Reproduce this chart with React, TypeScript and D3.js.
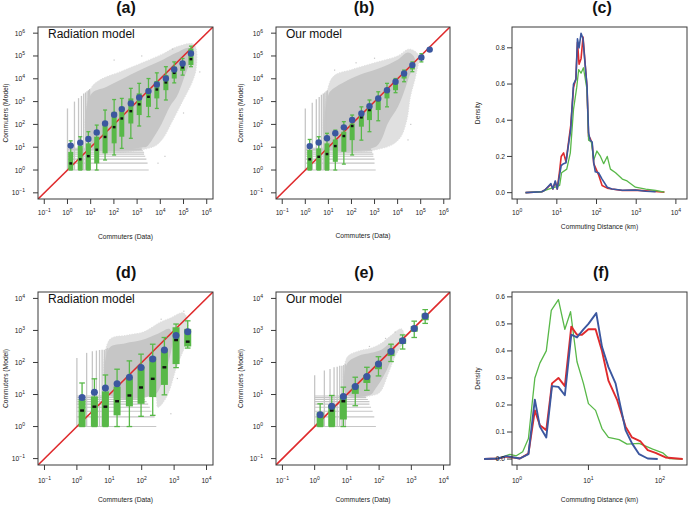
import React from 'react';
import * as d3 from 'd3';

const FONT = '"Liberation Sans", Arial, Helvetica, sans-serif';
const RED = '#df2a2c';
const GREEN = '#58b848';
const BLUE = '#3b579f';
const GRAY = '#c6c6c6';
const GRAY_LIGHT = '#e0e0e0';
const AXIS = '#3a3a3a';

// ---------- panel (a): radiation model, all commuters (log10 values) ----------
const aBinX = [0.14, 0.55, 0.9, 1.26, 1.62, 2.01, 2.34, 2.73, 3.09, 3.49, 3.85, 4.24, 4.6, 4.96, 5.32];
const aMean = [1.07, 1.2, 1.36, 1.65, 2.04, 2.42, 2.67, 2.92, 3.18, 3.46, 3.75, 4.01, 4.41, 4.67, 5.11];
const aMedian = [0.29, 0.47, 0.61, 0.89, 1.45, 1.88, 2.26, 2.58, 2.88, 3.21, 3.53, 3.84, 4.26, 4.5, 4.86];
const aQ3 = [0.8, 1.07, 1.17, 1.46, 2.04, 2.55, 2.77, 3.14, 3.36, 3.58, 3.9, 4.16, 4.53, 4.74, 5.33];
const aQ1 = [0, 0, 0, 0.29, 0.73, 1.17, 1.46, 2.04, 2.41, 2.77, 3.14, 3.5, 4.01, 4.35, 4.6];
const aHi = [1.28, 1.46, 1.68, 1.97, 2.63, 3.09, 3.14, 3.58, 3.8, 4.01, 4.26, 4.53, 4.74, 4.89, 5.43];
const aLo = [0, 0, 0, 0, 0.44, 0.66, 0.95, 1.39, 1.93, 2.34, 2.7, 3.07, 3.82, 4.16, 4.53];
const aOuter = [[1, 1], [1, 3.55], [1.4, 3.95], [2.26, 4.3], [3.27, 4.72], [4.13, 5.1], [4.71, 5.4], [5.45, 5.5], [5.55, 4.5], [5.35, 3.8], [4.95, 3.0], [4.55, 2.2], [4.05, 1.3], [3.65, 1.0]];
const aCore = [[1, 1], [1, 3.3], [1.69, 3.65], [2.55, 4.09], [3.27, 4.45], [4.13, 4.85], [4.71, 5.15], [5.25, 5.35], [5.3, 4.9], [4.99, 3.95], [4.71, 3.22], [4.42, 2.8], [3.99, 1.9], [3.41, 1.02], [3.3, 1]];
const aVTops = [2.7, 3.0, 3.15, 3.25, 3.35, 3.4, 3.45, 3.5, 3.55];
const aHEnds = [3.5, 3.45, 3.4, 3.35, 3.3, 3.3, 3.25, 3.2, 3.2];
const aOut = [[2.01, 4.82], [4.53, 5.3], [5.7, 4.3], [3.2, 5.0], [5.0, 2.5], [4.2, 0.6], [3.9, 0.3]];

// ---------- panel (b): our model, all commuters ----------
const bBinX = [0.19, 0.58, 0.94, 1.3, 1.67, 2.03, 2.43, 2.78, 3.16, 3.54, 3.91, 4.28, 4.64, 5.03, 5.39];
const bMean = [1.05, 1.21, 1.39, 1.61, 1.87, 2.19, 2.48, 2.8, 3.14, 3.5, 3.87, 4.23, 4.6, 4.93, 5.28];
const bMedian = [0.47, 0.58, 0.7, 1.05, 1.49, 1.93, 2.31, 2.63, 3.07, 3.46, 3.82, 4.2, 4.57, 4.93, 5.28];
const bQ3 = [0.88, 0.95, 1.17, 1.34, 1.68, 2.04, 2.41, 2.74, 3.09, 3.5, 3.87, 4.23, 4.6, 5.0, 5.3];
const bQ1 = [0, 0, 0, 0.36, 0.8, 1.31, 1.9, 2.19, 2.63, 3.14, 3.5, 4.01, 4.41, 4.82, 5.25];
const bHi = [1.34, 1.46, 1.61, 1.75, 2.12, 2.41, 2.77, 3.07, 3.43, 3.8, 4.01, 4.38, 4.74, 5.1, 5.32];
const bLo = [0, 0, 0, 0, 0.26, 0.66, 1.31, 1.68, 2.16, 2.77, 3.39, 3.87, 4.31, 4.74, 5.22];
const bOuter = [[1, 1], [1, 3.65], [1.27, 4.15], [2.0, 4.4], [3.0, 4.7], [4.0, 5.0], [4.5, 5.3], [4.9, 5.05], [4.8, 4.2], [4.55, 3.2], [4.4, 2.2], [4.1, 1.4], [3.5, 1.0]];
const bCore = [[1, 1], [1, 3.3], [1.13, 3.5], [1.85, 3.95], [2.57, 4.25], [3.29, 4.5], [4.02, 4.85], [4.45, 5.15], [4.74, 4.9], [4.45, 3.95], [4.02, 2.78], [3.58, 2.05], [3.29, 1.32], [3.0, 1]];
const bVTops = [2.7, 2.95, 3.1, 3.2, 3.3, 3.35, 3.4, 3.45, 3.5];
const bHEnds = [3.05, 3.0, 3.0, 2.95, 2.95, 2.9, 2.9, 2.85, 2.85];
const bOut = [[1.27, 4.38], [4.45, 1.32], [3.0, 4.9], [4.57, 2.0], [2.2, 4.7]];

// ---------- panel (d): radiation model, subset ----------
const dBinX = [0.16, 0.54, 0.88, 1.24, 1.62, 1.98, 2.34, 2.7, 3.06, 3.42];
const dMean = [0.91, 1.07, 1.2, 1.34, 1.54, 1.84, 2.11, 2.39, 2.84, 2.96];
const dMedian = [0.5, 0.62, 0.62, 0.79, 0.97, 1.22, 1.49, 1.85, 2.7, 2.65];
const dQ3 = [0.86, 0.94, 1.1, 1.25, 1.51, 1.87, 2.18, 2.42, 3.1, 3.05];
const dQ1 = [0, 0, 0, 0.35, 0.63, 0.71, 0.92, 1.3, 1.95, 2.5];
const dHi = [1.36, 1.49, 1.61, 1.79, 2.05, 2.26, 2.57, 2.78, 3.2, 3.3];
const dLo = [0, 0, 0, 0, 0, 0.32, 0.35, 0.99, 1.84, 2.45];
const dOuter = [[1, 1], [1, 2.7], [1.54, 2.85], [2.05, 2.95], [2.56, 3.25], [2.87, 3.38], [3.28, 3.55], [3.42, 3.3], [3.39, 2.7], [3.08, 1.87], [2.77, 0.93], [2.5, 0.6], [2.4, 1]];
const dCore = [[1, 1], [1, 2.45], [1.5, 2.6], [2.0, 2.7], [2.5, 2.9], [2.85, 3.05], [2.95, 2.7], [2.8, 1.9], [2.6, 1.3], [2.4, 1]];
const dVTops = [2.14, 2.3, 2.35, 2.37, 2.39, 2.4, 2.4, 2.42, 2.45];
const dHEnds = [2.45, 2.4, 2.3, 2.25, 2.2, 2.15, 2.1, 2.05, 2.05];
const dOut = [[3.3, 3.6], [2.6, 3.35], [3.1, 1.5], [2.9, 0.4]];

// ---------- panel (e): our model, subset ----------
const eBinX = [0.17, 0.53, 0.89, 1.26, 1.62, 1.98, 2.37, 2.73, 3.09, 3.43];
const eMean = [0.37, 0.63, 0.94, 1.25, 1.56, 1.95, 2.34, 2.68, 3.06, 3.45];
const eMedian = [0.32, 0.5, 0.79, 1.2, 1.51, 1.93, 2.31, 2.65, 3.04, 3.43];
const eQ3 = [0.45, 0.68, 0.94, 1.3, 1.61, 2.0, 2.41, 2.75, 3.14, 3.53];
const eQ1 = [0, 0, 0.22, 1.02, 1.36, 1.79, 2.2, 2.58, 2.96, 3.32];
const eHi = [0.71, 0.97, 1.23, 1.54, 1.85, 2.18, 2.57, 2.86, 3.29, 3.65];
const eLo = [0, 0, 0, 0.65, 1.13, 1.58, 2.03, 2.42, 2.78, 3.22];
const eOuter = [[1, 1], [1, 2.15], [1.35, 2.35], [1.76, 2.45], [2.07, 2.6], [2.38, 2.85], [2.69, 3.05], [2.78, 2.75], [2.5, 2.2], [2.3, 1.7], [2.05, 1.1], [1.9, 1]];
const eCore = [[1, 1], [1, 1.95], [1.35, 2.2], [1.76, 2.3], [2.07, 2.4], [2.38, 2.6], [2.5, 2.5], [2.28, 1.87], [2.07, 1.45], [1.86, 1.14], [1.75, 1]];
const eVTops = [1.6, 1.75, 1.8, 1.85, 1.87, 1.9, 1.9, 1.92, 1.95];
const eHEnds = [1.9, 1.85, 1.8, 1.75, 1.7, 1.7, 1.65, 1.6, 1.6];
const eOut = [[2.5, 2.95], [1.7, 2.5], [2.2, 2.75]];

// ---------- panel (c): commuting distance densities (log10 km, density) ----------
const cBlueX = [0.21, 0.62, 0.7, 0.85, 0.9, 0.96, 1.01, 1.07, 1.11, 1.17, 1.23, 1.29, 1.35, 1.42, 1.48, 1.52, 1.56, 1.61, 1.66, 1.7, 1.76, 1.8, 1.84, 1.89, 1.93, 1.97, 2.05, 2.14, 2.27, 2.39, 2.65, 2.98, 3.24, 3.49];
const cBlueY = [0, 0.005, 0.015, 0.05, 0.02, 0.065, 0.02, 0.1, 0.15, 0.16, 0.165, 0.26, 0.35, 0.6, 0.625, 0.85, 0.8, 0.88, 0.85, 0.74, 0.59, 0.33, 0.29, 0.28, 0.165, 0.115, 0.11, 0.075, 0.03, 0.02, 0.013, 0.015, 0.008, 0.005];
const cRedX = [0.21, 0.62, 0.7, 0.85, 0.9, 0.96, 1.01, 1.07, 1.11, 1.17, 1.23, 1.29, 1.35, 1.42, 1.48, 1.52, 1.56, 1.61, 1.66, 1.7, 1.76, 1.8, 1.84, 1.89, 1.93, 1.97, 2.05, 2.14, 2.27, 2.39, 2.65, 2.98, 3.24, 3.49, 3.71];
const cRedY = [0, 0.005, 0.015, 0.045, 0.02, 0.06, 0.02, 0.12, 0.2, 0.22, 0.17, 0.27, 0.37, 0.58, 0.63, 0.83, 0.71, 0.74, 0.86, 0.75, 0.58, 0.31, 0.3, 0.27, 0.16, 0.14, 0.1, 0.04, 0.025, 0.02, 0.012, 0.014, 0.01, 0.006, 0.003];
const cGreenX = [0.21, 0.62, 0.79, 0.96, 1.07, 1.12, 1.25, 1.34, 1.42, 1.5, 1.55, 1.61, 1.67, 1.76, 1.8, 1.87, 1.93, 2.01, 2.1, 2.18, 2.27, 2.35, 2.48, 2.65, 2.77, 2.98, 3.24, 3.49, 3.71];
const cGreenY = [0, 0.005, 0.02, 0.03, 0.04, 0.11, 0.13, 0.22, 0.46, 0.58, 0.68, 0.66, 0.69, 0.57, 0.29, 0.28, 0.18, 0.23, 0.2, 0.16, 0.2, 0.13, 0.11, 0.075, 0.065, 0.03, 0.02, 0.012, 0.003];

// ---------- panel (f): commuting distance densities, subset ----------
const fGreenX = [-0.46, -0.27, -0.1, -0.01, 0.08, 0.16, 0.25, 0.32, 0.41, 0.48, 0.58, 0.67, 0.75, 0.84, 0.93, 1.0, 1.1, 1.19, 1.28, 1.43, 1.54, 1.71, 1.9, 2.04, 2.13, 2.32];
const fGreenY = [0, 0.002, 0.017, 0.012, 0.027, 0.076, 0.3, 0.355, 0.4, 0.55, 0.59, 0.48, 0.545, 0.36, 0.28, 0.205, 0.18, 0.113, 0.08, 0.072, 0.055, 0.058, 0.037, 0.023, 0.002, 0];
const fRedX = [-0.46, -0.27, -0.15, 0.04, 0.16, 0.25, 0.32, 0.41, 0.49, 0.58, 0.67, 0.76, 0.84, 0.91, 1.0, 1.1, 1.19, 1.28, 1.4, 1.52, 1.61, 1.73, 1.83, 1.94, 2.08, 2.32];
const fRedY = [0, 0.002, 0.009, 0.002, 0.02, 0.18, 0.125, 0.107, 0.28, 0.3, 0.27, 0.49, 0.46, 0.46, 0.48, 0.48, 0.4, 0.29, 0.22, 0.12, 0.08, 0.065, 0.033, 0.023, 0.006, 0];
const fBlueX = [-0.46, -0.27, -0.15, 0.04, 0.16, 0.25, 0.32, 0.41, 0.49, 0.58, 0.67, 0.76, 0.84, 0.93, 1.0, 1.11, 1.19, 1.28, 1.38, 1.52, 1.61, 1.71, 1.83, 1.97];
const fBlueY = [0, 0.002, 0.011, 0.002, 0.018, 0.22, 0.12, 0.08, 0.27, 0.267, 0.236, 0.46, 0.45, 0.48, 0.5, 0.54, 0.415, 0.34, 0.28, 0.107, 0.058, 0.018, 0.002, 0];

const topExps = [-1, 0, 1, 2, 3, 4, 5, 6];
const botExps = [-1, 0, 1, 2, 3, 4];
const cExps = [0, 1, 2, 3, 4];
const fExps = [0, 1, 2];
const cYTicks = [0, 0.2, 0.4, 0.6, 0.8];
const fYTicks = [0, 0.1, 0.2, 0.3, 0.4, 0.5, 0.6];

type Rect = { x0: number; x1: number; y0: number; y1: number };
const P10 = (v: number) => Math.pow(10, v);
const TICK_FS = 6.7;

function Pow10({ x, y, e, anchor }: { x: number; y: number; e: number; anchor: string }) {
  const s = e < 0 ? '\u2212' + Math.abs(e) : String(e);
  return (
    <text x={x} y={y} textAnchor={anchor} fontSize={TICK_FS} fill="#222" fontFamily={FONT}>
      10<tspan dy={-3} fontSize={5}>{s}</tspan>
    </text>
  );
}

function Frame({ r }: { r: Rect }) {
  return <rect x={r.x0} y={r.y0} width={r.x1 - r.x0} height={r.y1 - r.y0} fill="none" stroke={AXIS} strokeWidth={1} />;
}

function ScatterPanel(props: {
  r: Rect; lo: number; hi: number; title: string; label: string; tx: number; ty: number;
  binX: number[]; mean: number[]; median: number[]; q1: number[]; q3: number[]; wlo: number[]; whi: number[];
  outer: number[][]; core: number[][]; vTops: number[]; hEnds: number[]; outl: number[][]; exps: number[];
  bw: number; rad: number; xlabY: number; tickY: number; ylabX: number; id: string;
}) {
  const { r } = props;
  const x = d3.scaleLog().domain([P10(props.lo), P10(props.hi)]).range([r.x0, r.x1]);
  const y = d3.scaleLog().domain([P10(props.lo), P10(props.hi)]).range([r.y1, r.y0]);
  const poly = d3.line<number[]>().x(d => x(P10(d[0]))).y(d => y(P10(d[1]))).curve(d3.curveCatmullRomClosed.alpha(0.5));
  const ints = [1, 2, 3, 4, 5, 6, 7, 8, 9];
  const cx = (r.x0 + r.x1) / 2;
  const cy = (r.y0 + r.y1) / 2;
  return (
    <g>
      <defs>
        <clipPath id={props.id}><rect x={r.x0} y={r.y0} width={r.x1 - r.x0} height={r.y1 - r.y0} /></clipPath>
      </defs>
      <g clipPath={`url(#${props.id})`}>
        <path d={poly(props.outer) || ''} fill={GRAY_LIGHT} stroke={GRAY_LIGHT} strokeWidth={1} strokeDasharray="1.2 1.4" />
        <path d={poly(props.core) || ''} fill={GRAY} stroke="none" />
        {ints.map((k, i) => (
          <line key={'v' + k} x1={x(k)} x2={x(k)} y1={y(1)} y2={y(P10(props.vTops[i]))} stroke={GRAY} strokeWidth={1.3} />
        ))}
        {ints.map((k, i) => (
          <line key={'h' + k} x1={x(1)} x2={x(P10(props.hEnds[i]))} y1={y(k)} y2={y(k)} stroke={GRAY} strokeWidth={1.1} />
        ))}
        {props.outl.map((p, i) => (
          <rect key={'o' + i} x={x(P10(p[0])) - 0.6} y={y(P10(p[1])) - 0.6} width={1.2} height={1.2} fill={GRAY} />
        ))}
        <line x1={x(P10(props.lo))} y1={y(P10(props.lo))} x2={x(P10(props.hi))} y2={y(P10(props.hi))} stroke={RED} strokeWidth={1.6} />
        {props.binX.map((bx, i) => {
          const px = x(P10(bx));
          const hw = props.bw / 2;
          return (
            <g key={'b' + i}>
              <line x1={px} x2={px} y1={y(P10(props.whi[i]))} y2={y(P10(props.wlo[i]))} stroke={GREEN} strokeWidth={1.3} />
              <line x1={px - hw * 0.8} x2={px + hw * 0.8} y1={y(P10(props.whi[i]))} y2={y(P10(props.whi[i]))} stroke={GREEN} strokeWidth={1.3} />
              <line x1={px - hw * 0.8} x2={px + hw * 0.8} y1={y(P10(props.wlo[i]))} y2={y(P10(props.wlo[i]))} stroke={GREEN} strokeWidth={1.3} />
              <rect x={px - hw} width={props.bw} y={y(P10(props.q3[i]))} height={Math.max(1, y(P10(props.q1[i])) - y(P10(props.q3[i])))} fill={GREEN} />
              <rect x={px - hw * 0.55} width={props.bw * 0.55} y={y(P10(props.median[i])) - 1.2} height={2.4} fill="#111" />
              <circle cx={px} cy={y(P10(props.mean[i]))} r={props.rad} fill={BLUE} />
            </g>
          );
        })}
      </g>
      <Frame r={r} />
      <text x={r.x0 + 10} y={r.y0 + 10.5} fontSize={12} fontFamily={FONT} fill="#111">{props.label}</text>
      {props.exps.map(e => (
        <g key={'xt' + e}>
          <line x1={x(P10(e))} x2={x(P10(e))} y1={r.y1} y2={r.y1 + 5} stroke={AXIS} />
          <Pow10 x={x(P10(e))} y={props.tickY} e={e} anchor="middle" />
        </g>
      ))}
      {props.exps.map(e => (
        <g key={'yt' + e}>
          <line x1={r.x0 - 5} x2={r.x0} y1={y(P10(e))} y2={y(P10(e))} stroke={AXIS} />
          <Pow10 x={r.x0 - 13} y={y(P10(e)) + 2.5} e={e} anchor="end" />
        </g>
      ))}
      <text x={cx} y={props.xlabY} textAnchor="middle" fontSize={6.7} fontFamily={FONT} fill="#222">Commuters (Data)</text>
      <text transform={`translate(${props.ylabX},${cy}) rotate(-90)`} textAnchor="middle" fontSize={6.7} fontFamily={FONT} fill="#222">Commuters (Model)</text>
      <text x={props.tx} y={props.ty} textAnchor="middle" fontSize={16} fontWeight="bold" fontFamily={FONT} fill="#111">{props.title}</text>
    </g>
  );
}

function DensityPanel(props: {
  r: Rect; xlo: number; xhi: number; ylo: number; yhi: number; title: string; tx: number; ty: number;
  series: { xs: number[]; ys: number[]; color: string; w: number }[]; exps: number[]; yTicks: number[];
  xlabY: number; tickY: number; ylabX: number;
}) {
  const { r } = props;
  const x = d3.scaleLog().domain([P10(props.xlo), P10(props.xhi)]).range([r.x0, r.x1]);
  const y = d3.scaleLinear().domain([props.ylo, props.yhi]).range([r.y1, r.y0]);
  const cx = (r.x0 + r.x1) / 2;
  const cy = (r.y0 + r.y1) / 2;
  return (
    <g>
      {props.series.map((s, i) => {
        const pts = s.xs.map((v, j) => [v, s.ys[j]]);
        const ln = d3.line<number[]>().x(d => x(P10(d[0]))).y(d => y(d[1]));
        return <path key={i} d={ln(pts) || ''} fill="none" stroke={s.color} strokeWidth={s.w} strokeLinejoin="round" />;
      })}
      <Frame r={r} />
      {props.exps.map(e => (
        <g key={'xt' + e}>
          <line x1={x(P10(e))} x2={x(P10(e))} y1={r.y1} y2={r.y1 + 5} stroke={AXIS} />
          <Pow10 x={x(P10(e))} y={props.tickY} e={e} anchor="middle" />
        </g>
      ))}
      {props.yTicks.map(t => (
        <g key={'yt' + t}>
          <line x1={r.x0 - 5} x2={r.x0} y1={y(t)} y2={y(t)} stroke={AXIS} />
          <text x={r.x0 - 7} y={y(t) + 2.3} textAnchor="end" fontSize={TICK_FS} fontFamily={FONT} fill="#222">{t.toFixed(1)}</text>
        </g>
      ))}
      <text x={cx} y={props.xlabY} textAnchor="middle" fontSize={6.7} fontFamily={FONT} fill="#222">Commuting Distance (km)</text>
      <text transform={`translate(${props.ylabX},${cy}) rotate(-90)`} textAnchor="middle" fontSize={6.7} fontFamily={FONT} fill="#222">Density</text>
      <text x={props.tx} y={props.ty} textAnchor="middle" fontSize={16} fontWeight="bold" fontFamily={FONT} fill="#111">{props.title}</text>
    </g>
  );
}

export default function App() {
  const rA = { x0: 38, x1: 213, y0: 27, y1: 199 };
  const rB = { x0: 276, x1: 450, y0: 27, y1: 199 };
  const rC = { x0: 512, x1: 687, y0: 27, y1: 199 };
  const rD = { x0: 38, x1: 213, y0: 292, y1: 465 };
  const rE = { x0: 276, x1: 450, y0: 292, y1: 465 };
  const rF = { x0: 512, x1: 687, y0: 292, y1: 465 };
  return (
    <div style={{ position: 'fixed', left: 0, top: 0, width: 688, height: 505, background: '#fff' }}>
      <svg width={688} height={505} style={{ display: 'block' }}>
        <rect width={688} height={505} fill="#fff" />
        <ScatterPanel id="clipA" r={rA} lo={-1.27} hi={6.27} title="(a)" label="Radiation model" tx={126} ty={13}
          binX={aBinX} mean={aMean} median={aMedian} q1={aQ1} q3={aQ3} wlo={aLo} whi={aHi}
          outer={aOuter} core={aCore} vTops={aVTops} hEnds={aHEnds} outl={aOut} exps={topExps}
          bw={5} rad={3.2} xlabY={238.5} tickY={215} ylabX={7.5} />
        <ScatterPanel id="clipB" r={rB} lo={-1.27} hi={6.27} title="(b)" label="Our model" tx={364} ty={13}
          binX={bBinX} mean={bMean} median={bMedian} q1={bQ1} q3={bQ3} wlo={bLo} whi={bHi}
          outer={bOuter} core={bCore} vTops={bVTops} hEnds={bHEnds} outl={bOut} exps={topExps}
          bw={5} rad={3.2} xlabY={238} tickY={215} ylabX={242.5} />
        <DensityPanel r={rC} xlo={-0.13} xhi={4.28} ylo={-0.035} yhi={0.915} title="(c)" tx={602} ty={13}
          series={[
            { xs: cRedX, ys: cRedY, color: RED, w: 1.6 },
            { xs: cGreenX, ys: cGreenY, color: GREEN, w: 1.3 },
            { xs: cBlueX, ys: cBlueY, color: BLUE, w: 1.6 },
          ]}
          exps={cExps} yTicks={cYTicks} xlabY={228.5} tickY={215} ylabX={479.5} />
        <ScatterPanel id="clipD" r={rD} lo={-1.2} hi={4.2} title="(d)" label="Radiation model" tx={126} ty={278}
          binX={dBinX} mean={dMean} median={dMedian} q1={dQ1} q3={dQ3} wlo={dLo} whi={dHi}
          outer={dOuter} core={dCore} vTops={dVTops} hEnds={dHEnds} outl={dOut} exps={botExps}
          bw={7} rad={3.5} xlabY={501.5} tickY={482.5} ylabX={7.5} />
        <ScatterPanel id="clipE" r={rE} lo={-1.2} hi={4.2} title="(e)" label="Our model" tx={364} ty={278}
          binX={eBinX} mean={eMean} median={eMedian} q1={eQ1} q3={eQ3} wlo={eLo} whi={eHi}
          outer={eOuter} core={eCore} vTops={eVTops} hEnds={eHEnds} outl={eOut} exps={botExps}
          bw={7} rad={3.5} xlabY={501.5} tickY={482.5} ylabX={242.5} />
        <DensityPanel r={rF} xlo={-0.07} xhi={2.38} ylo={-0.022} yhi={0.618} title="(f)" tx={601} ty={278}
          series={[
            { xs: fGreenX, ys: fGreenY, color: GREEN, w: 1.3 },
            { xs: fRedX, ys: fRedY, color: RED, w: 1.9 },
            { xs: fBlueX, ys: fBlueY, color: BLUE, w: 1.9 },
          ]}
          exps={fExps} yTicks={fYTicks} xlabY={501.5} tickY={482.5} ylabX={479.5} />
      </svg>
    </div>
  );
}
